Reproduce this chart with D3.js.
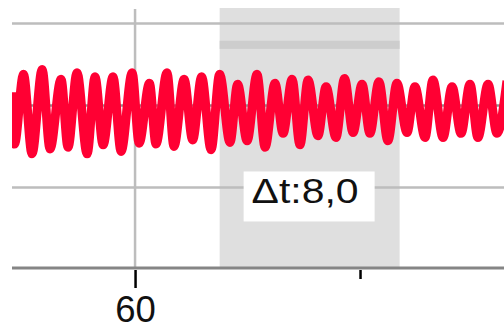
<!DOCTYPE html>
<html>
<head>
<meta charset="utf-8">
<script src="https://cdn.jsdelivr.net/npm/d3@7"></script>
<style>
  html, body { margin: 0; padding: 0; background: #fff; }
  svg { display: block; }
</style>
</head>
<body>
<svg id="chart" width="504" height="329"></svg>
<script>
// ---- data ----
const time = [54.53, 54.64, 55.04, 55.42, 55.87, 56.22, 56.71, 57.02, 57.42, 57.87,
  58.22, 58.58, 59.02, 59.38, 59.87, 60.18, 60.64, 60.93, 61.42, 61.73,
  62.18, 62.56, 62.96, 63.38, 63.76, 64.22, 64.56, 64.98, 65.42, 65.78,
  66.22, 66.58, 66.98, 67.33, 67.69, 68.13, 68.49, 68.93, 69.31, 69.69,
  70.09, 70.44, 70.84, 71.24, 71.64, 72.09, 72.44, 72.89, 73.24, 73.69,
  74.09, 74.49, 74.89, 75.24, 75.69, 76.09, 76.53];
const value = [0.16, -0.47, 0.38, -0.59, 0.44, -0.53, 0.32, -0.51, 0.40, -0.59,
  0.35, -0.48, 0.35, -0.56, 0.40, -0.46, 0.27, -0.47, 0.40, -0.50,
  0.32, -0.42, 0.35, -0.54, 0.38, -0.45, 0.26, -0.43, 0.38, -0.51,
  0.27, -0.34, 0.32, -0.48, 0.31, -0.37, 0.23, -0.39, 0.33, -0.33,
  0.26, -0.34, 0.29, -0.43, 0.27, -0.33, 0.23, -0.39, 0.31, -0.39,
  0.23, -0.34, 0.26, -0.39, 0.26, -0.34, 0.30];
const xDomain = [54.53, 76.4];
const yDomain = [-1.982, 1.189];
const majorTicks = [60];
const majorTickLabels = ["60"];
const minorTicks = [70];
const yGrid = [1, -1];
const centerLine = [0];
const selection = [63.76, 71.76];     // shaded interval
const selectionLabel = "Δt:8,0";
const bandLevel = [0.69, 0.79];        // dark band inside selection

// ---- layout ----
const svg = d3.select("#chart");
const x = d3.scaleLinear().domain(xDomain).range([12, 504]);
const y = d3.scaleLinear().domain(yDomain).range([268, 8]);

svg.append("defs").append("clipPath").attr("id", "plot")
  .append("rect").attr("x", 12).attr("y", 0).attr("width", 492).attr("height", 268);

// selection shading
svg.append("rect")
  .attr("x", x(selection[0])).attr("y", y(yDomain[1]))
  .attr("width", x(selection[1]) - x(selection[0]))
  .attr("height", y(yDomain[0]) - y(yDomain[1]))
  .attr("fill", "#dfdfdf");
svg.append("rect")
  .attr("x", x(selection[0])).attr("y", y(bandLevel[1]))
  .attr("width", x(selection[1]) - x(selection[0]))
  .attr("height", y(bandLevel[0]) - y(bandLevel[1]))
  .attr("fill", "#cdcdcd");

// grid
svg.selectAll(".hgrid").data(yGrid).enter().append("line")
  .attr("x1", 12).attr("x2", 504)
  .attr("y1", d => y(d)).attr("y2", d => y(d))
  .attr("stroke", "#bdbdbd").attr("stroke-width", 2.5);
svg.selectAll(".vgrid").data(majorTicks).enter().append("line")
  .attr("x1", d => x(d)).attr("x2", d => x(d))
  .attr("y1", y(yDomain[1]) + 1).attr("y2", y(yDomain[0]))
  .attr("stroke", "#bdbdbd").attr("stroke-width", 2.5);
svg.selectAll(".cline").data(centerLine).enter().append("line")
  .attr("x1", 12).attr("x2", 504)
  .attr("y1", d => y(d)).attr("y2", d => y(d))
  .attr("stroke", "#8e8e8e").attr("stroke-width", 2.5);

// signal
const pts = time.map((t, i) => [t, value[i]]);
svg.append("path")
  .datum(pts)
  .attr("clip-path", "url(#plot)")
  .attr("fill", "none")
  .attr("stroke", "#ff0033")
  .attr("stroke-width", 9)
  .attr("stroke-linejoin", "round")
  .attr("d", d3.line().x(d => x(d[0])).y(d => y(d[1])).curve(d3.curveMonotoneX));

// axis
const axisG = svg.append("g").attr("transform", `translate(0,${y(yDomain[0])})`);
axisG.append("line").attr("x1", 12).attr("x2", 504).attr("y1", 0).attr("y2", 0)
  .attr("stroke", "#858585").attr("stroke-width", 3);
const major = svg.append("g").attr("transform", `translate(0,${y(yDomain[0]) + 2})`)
  .call(d3.axisBottom(x).tickValues(majorTicks).tickSize(18).tickSizeOuter(0)
    .tickFormat((d, i) => majorTickLabels[i]));
major.select(".domain").remove();
major.selectAll(".tick line").attr("stroke", "#000").attr("stroke-width", 2.5);
major.selectAll(".tick text")
  .attr("font-family", "'Liberation Sans', Arial, sans-serif")
  .attr("font-size", 36.5).attr("fill", "#111").attr("dy", 0).attr("y", 51.5);
const minor = svg.append("g").attr("transform", `translate(0,${y(yDomain[0]) + 2})`)
  .call(d3.axisBottom(x).tickValues(minorTicks).tickSize(9).tickSizeOuter(0).tickFormat(""));
minor.select(".domain").remove();
minor.selectAll(".tick line").attr("stroke", "#000").attr("stroke-width", 2.5);

// selection label
const cx = (x(selection[0]) + x(selection[1])) / 2;
const by = y(-1);
svg.append("rect")
  .attr("x", cx - 66).attr("y", by - 16).attr("width", 131).attr("height", 50)
  .attr("fill", "#fff");
svg.append("text")
  .attr("x", cx - 58).attr("y", by + 16)
  .attr("font-family", "'Liberation Sans', Arial, sans-serif")
  .attr("font-size", 35).attr("fill", "#111")
  .attr("textLength", 107).attr("lengthAdjust", "spacingAndGlyphs")
  .text(selectionLabel);
</script>
</body>
</html>
